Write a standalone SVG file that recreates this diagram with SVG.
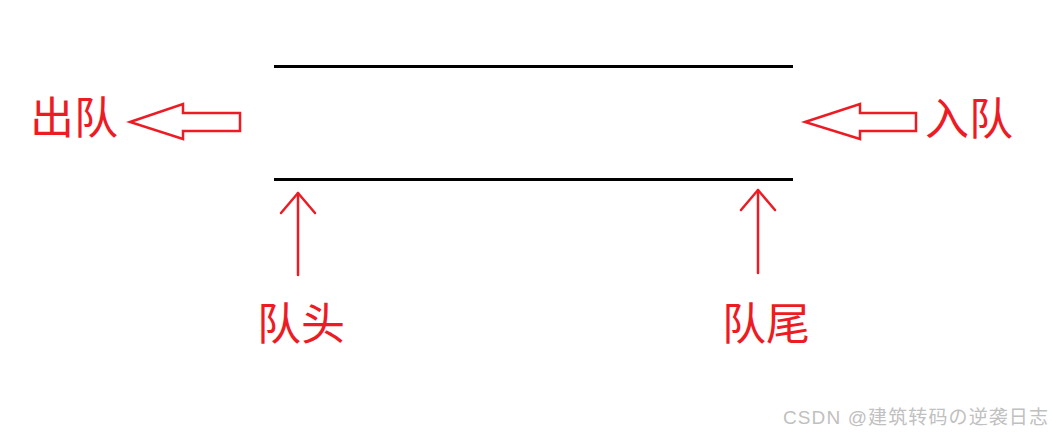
<svg xmlns="http://www.w3.org/2000/svg" width="1052" height="435" viewBox="0 0 1052 435">
<style>
.lbl{font-family:"Noto Sans CJK SC","Noto Sans",sans-serif;font-size:44px;fill:#ED1C24}
.blk{fill:none;stroke:#ED1C24;stroke-width:2.5;stroke-linejoin:miter}
.up{fill:none;stroke:#ED1C24;stroke-width:2.5;stroke-linecap:round;stroke-linejoin:round}
.bar{stroke:#000;stroke-width:3}
.wm{font-family:"Liberation Sans","Noto Sans CJK SC",sans-serif;font-size:19px;fill:#c0c0c0}
</style>
<rect width="1052" height="435" fill="#fff"/>
<g id="queue">
<line class="bar" x1="274" y1="66.5" x2="793" y2="66.5"/>
<line class="bar" x1="274" y1="179.5" x2="793" y2="179.5"/>
</g>
<g id="connectors">
<polygon class="blk" points="130,122 183,104 183,113 240,113 240,131 183,131 183,139"/>
<polygon class="blk" points="805,122 860,104 860,113 916,113 916,131 860,131 860,139"/>
<g class="up">
<line x1="298" y1="193" x2="298" y2="275"/>
<polyline points="281,213 298,193 315,213"/>
<line x1="758" y1="190" x2="758" y2="273"/>
<polyline points="741,210 758,190 775,210"/>
</g>
</g>
<g id="dequeue"><text class="lbl" x="30" y="134">出队</text></g>
<g id="enqueue"><text class="lbl" x="925" y="135">入队</text></g>
<g id="head"><text class="lbl" x="257" y="340">队头</text></g>
<g id="tail"><text class="lbl" x="722" y="340">队尾</text></g>
<text class="wm" x="1048" y="424" text-anchor="end" textLength="265" lengthAdjust="spacing">CSDN @建筑转码の逆袭日志</text>
</svg>
